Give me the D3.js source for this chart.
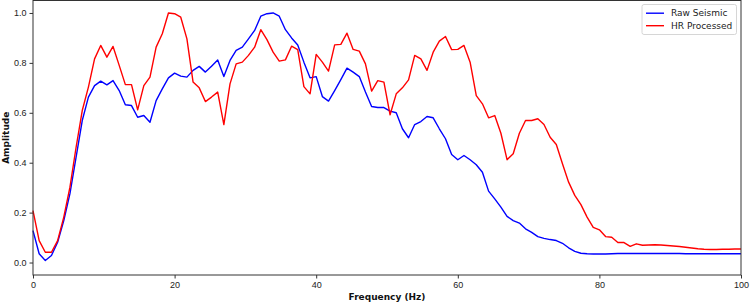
<!DOCTYPE html>
<html>
<head>
  <title>Amplitude Spectrum</title>
  <style>
    body {
      margin: 0;
      background: #fff;
    }
    svg {
      font-family: "DejaVu Sans", sans-serif;
      font-size: 9px;
    }
    .axis text {
      fill: #222;
      font-size: 9px;
    }
    .axis path {
      display: none;
    }
    .axis line {
      stroke: #333;
    }
    .axis-label {
      font-weight: bold;
      font-size: 9px;
      text-anchor: middle;
      fill: #111;
    }
    .series {
      fill: none;
      stroke-width: 1.4;
      stroke-linejoin: round;
    }
  </style>
</head>
<body>
  <script src="https://cdn.jsdelivr.net/npm/d3@7"></script>
  <script>
    // amplitude spectra, evenly sampled from 0 to 100 Hz
    const rawSeismic = [
      0.128, 0.035, 0.008, 0.028, 0.081, 0.168, 0.276, 0.422, 0.569, 0.663, 0.709, 0.727, 0.712, 0.729, 0.689, 0.632,
      0.629, 0.582, 0.589, 0.562, 0.649, 0.696, 0.740, 0.759, 0.747, 0.743, 0.770, 0.786, 0.763, 0.787, 0.812, 0.745,
      0.810, 0.850, 0.863, 0.896, 0.930, 0.987, 0.997, 1.000, 0.987, 0.933, 0.900, 0.872, 0.803, 0.740, 0.745, 0.665,
      0.647, 0.689, 0.733, 0.779, 0.763, 0.745, 0.683, 0.625, 0.621, 0.621, 0.607, 0.600, 0.536, 0.500, 0.553, 0.565,
      0.585, 0.580, 0.536, 0.496, 0.433, 0.412, 0.429, 0.412, 0.392, 0.362, 0.286, 0.255, 0.222, 0.185, 0.168, 0.158,
      0.135, 0.121, 0.104, 0.097, 0.092, 0.088, 0.077, 0.059, 0.045, 0.037, 0.035, 0.034, 0.034, 0.034, 0.035, 0.036,
      0.036, 0.036, 0.036, 0.036, 0.036, 0.036, 0.036, 0.036, 0.036, 0.036, 0.035, 0.035, 0.035, 0.035, 0.035, 0.035,
      0.035, 0.035, 0.035, 0.035
    ];
    const hrProcessed = [
      0.208, 0.088, 0.041, 0.041, 0.088, 0.182, 0.302, 0.462, 0.609, 0.703, 0.816, 0.870, 0.823, 0.866, 0.790, 0.713,
      0.713, 0.612, 0.709, 0.743, 0.863, 0.917, 1.000, 0.997, 0.983, 0.896, 0.723, 0.700, 0.645, 0.663, 0.683, 0.553,
      0.716, 0.796, 0.803, 0.830, 0.863, 0.933, 0.893, 0.843, 0.807, 0.812, 0.867, 0.853, 0.705, 0.676, 0.834, 0.803,
      0.767, 0.872, 0.874, 0.919, 0.854, 0.847, 0.796, 0.687, 0.729, 0.723, 0.592, 0.676, 0.700, 0.732, 0.830, 0.816,
      0.770, 0.843, 0.887, 0.906, 0.853, 0.854, 0.870, 0.803, 0.669, 0.636, 0.580, 0.589, 0.518, 0.412, 0.436, 0.518,
      0.569, 0.569, 0.576, 0.553, 0.502, 0.473, 0.396, 0.322, 0.269, 0.232, 0.182, 0.141, 0.131, 0.104, 0.101, 0.080,
      0.080, 0.065, 0.075, 0.069, 0.070, 0.071, 0.070, 0.068, 0.066, 0.064, 0.061, 0.058, 0.055, 0.053, 0.052, 0.052,
      0.053, 0.053, 0.054, 0.054
    ];
    const seriesNames = ["Raw Seismic", "HR Processed"];
    const seriesColors = ["blue", "red"];
    const xTicks = [0, 20, 40, 60, 80, 100];
    const yTicks = [0.0, 0.2, 0.4, 0.6, 0.8, 1.0];

    const fMax = 100;
    const df = fMax / (rawSeismic.length - 1);
    const freqs = rawSeismic.map((_, i) => i * df);

    const width = 750;
    const height = 303;
    const margin = { top: 0.5, right: 9, bottom: 28, left: 33 };
    const innerWidth = width - margin.left - margin.right;
    const innerHeight = height - margin.top - margin.bottom;

    const x = d3.scaleLinear()
      .domain([0, 100])
      .range([0, innerWidth]);

    const y = d3.scaleLinear()
      .domain([-0.05, 1.05])
      .range([innerHeight, 0]);

    const svg = d3.select("body")
      .append("svg")
      .attr("width", width)
      .attr("height", height)
      .append("g")
      .attr("transform", `translate(${margin.left},${margin.top})`);

    svg.append("g")
      .attr("class", "axis")
      .attr("transform", `translate(0,${innerHeight})`)
      .call(d3.axisBottom(x).tickValues(xTicks).tickSize(3.5).tickPadding(3).tickFormat(d3.format("d")));

    svg.append("g")
      .attr("class", "axis")
      .call(d3.axisLeft(y).tickValues(yTicks).tickSize(3.5).tickPadding(3).tickFormat(d3.format(".1f")));

    const line = d3.line()
      .x((d, i) => x(freqs[i]))
      .y(d => y(d));

    [rawSeismic, hrProcessed].forEach((vals, k) => {
      svg.append("path")
        .datum(vals)
        .attr("class", "series")
        .attr("stroke", seriesColors[k])
        .attr("d", line);
    });

    // frame
    svg.append("rect")
      .attr("width", innerWidth)
      .attr("height", innerHeight)
      .attr("fill", "none")
      .attr("stroke", "#333")
      .attr("stroke-width", 1);

    svg.append("text")
      .attr("class", "axis-label")
      .attr("x", innerWidth / 2)
      .attr("y", innerHeight + 24.5)
      .text("Frequency (Hz)");

    svg.append("text")
      .attr("class", "axis-label")
      .attr("transform", `translate(${-24.5},${innerHeight / 2}) rotate(-90)`)
      .text("Amplitude");

    // legend
    const legend = svg.append("g")
      .attr("transform", `translate(${innerWidth - 99},4)`);

    legend.append("rect")
      .attr("width", 94.5)
      .attr("height", 30)
      .attr("rx", 2)
      .attr("fill", "white")
      .attr("fill-opacity", 0.8)
      .attr("stroke", "#ccc")
      .attr("stroke-width", 0.8);

    seriesNames.forEach((name, k) => {
      const yy = 8.7 + k * 12.5;
      legend.append("line")
        .attr("x1", 4)
        .attr("x2", 22)
        .attr("y1", yy)
        .attr("y2", yy)
        .attr("stroke", seriesColors[k])
        .attr("stroke-width", 1.4);
      legend.append("text")
        .attr("x", 29)
        .attr("y", yy + 3.2)
        .attr("fill", "#222")
        .text(name);
    });
  </script>
</body>
</html>
